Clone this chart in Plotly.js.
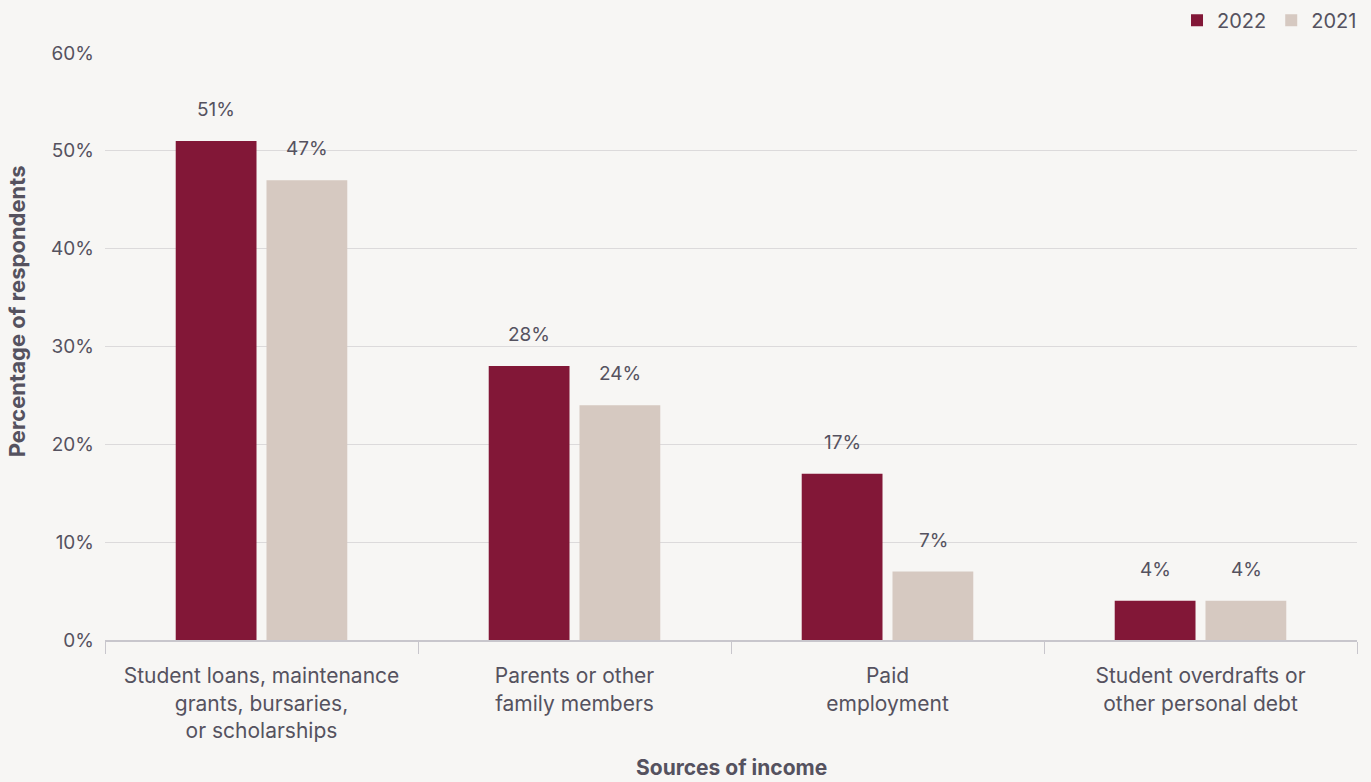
<!DOCTYPE html>
<html>
<head>
<meta charset="utf-8">
<script src="https://cdn.plot.ly/plotly-3.0.1.min.js"></script>
<style>
html,body{margin:0;padding:0;background:#f7f6f4;}
#chart{width:1371px;height:782px;}
</style>
</head>
<body>
<div id="chart"></div>
<script>
const categories = [
  "Student loans, maintenance<br>grants, bursaries,<br>or scholarships",
  "Parents or other<br>family members",
  "Paid<br>employment",
  "Student overdrafts or<br>other personal debt"
];
const values2022 = [51, 28, 17, 4];
const values2021 = [47, 24, 7, 4];
const seriesNames = ["2022", "2021"];
const seriesColors = ["#821737", "#d6c9c1"];
const xTitle = "Sources of income";
const yTitle = "Percentage of respondents";

const FONT = "Inter, 'Open Sans', sans-serif";
const TXT = "#55525f";

const traces = [values2022, values2021].map((vals, i) => ({
  type: "bar",
  name: seriesNames[i],
  x: categories,
  y: vals,
  marker: {color: seriesColors[i]},
  hoverinfo: "skip"
}));

const annotations = [];
[values2022, values2021].forEach((vals, i) => {
  vals.forEach((v, j) => {
    annotations.push({
      x: categories[j], y: v, xref: "x", yref: "y",
      text: v + "%", showarrow: false,
      yanchor: "bottom", xanchor: "center",
      xshift: i === 0 ? -45.5 : 45.5, yshift: 18,
      font: {family: FONT, size: 19, color: TXT}
    });
  });
});
annotations.push({
  xref: "paper", yref: "paper", x: 0.5, y: 0, yshift: -127,
  xanchor: "center", yanchor: "middle", showarrow: false,
  text: "<b>" + xTitle + "</b>",
  font: {family: FONT, size: 21, color: TXT}
});
annotations.push({
  xref: "paper", yref: "paper", x: 0, xshift: -88, y: 0.56,
  xanchor: "center", yanchor: "middle", showarrow: false, textangle: -90,
  text: "<b>" + yTitle + "</b>",
  font: {family: FONT, size: 22, color: TXT}
});

const layout = {
  width: 1371, height: 782,
  paper_bgcolor: "#f7f6f4", plot_bgcolor: "#f7f6f4",
  margin: {l: 105, r: 14, t: 53, b: 142, autoexpand: false},
  barmode: "group", bargap: 0.42, bargroupgap: 0.11,
  font: {family: FONT, color: TXT, size: 18},
  showlegend: true,
  legend: {orientation: "h", x: 1.004, xanchor: "right", y: 1.056, yanchor: "middle",
           font: {family: FONT, size: 20, color: TXT}, traceorder: "normal",
           itemwidth: 30, bgcolor: "rgba(0,0,0,0)"},
  xaxis: {
    type: "category",
    showline: true, linecolor: "#c8c6cc", linewidth: 2,
    ticks: "outside", tickson: "boundaries", ticklen: 12, tickcolor: "#c8c6cc", tickwidth: 1,
    ticklabelstandoff: 16,
    tickfont: {family: FONT, size: 21, color: TXT},
    showgrid: false
  },
  yaxis: {
    range: [0, 60], dtick: 10, ticksuffix: "%",
    showgrid: true, gridcolor: "#dcdadb", gridwidth: 1,
    zeroline: false, showline: false,
    ticks: "", ticklabelstandoff: 10,
    tickfont: {family: FONT, size: 19, color: TXT}
  },
  annotations: annotations
};

Plotly.newPlot("chart", traces, layout, {displayModeBar: false, staticPlot: true});
</script>
</body>
</html>
